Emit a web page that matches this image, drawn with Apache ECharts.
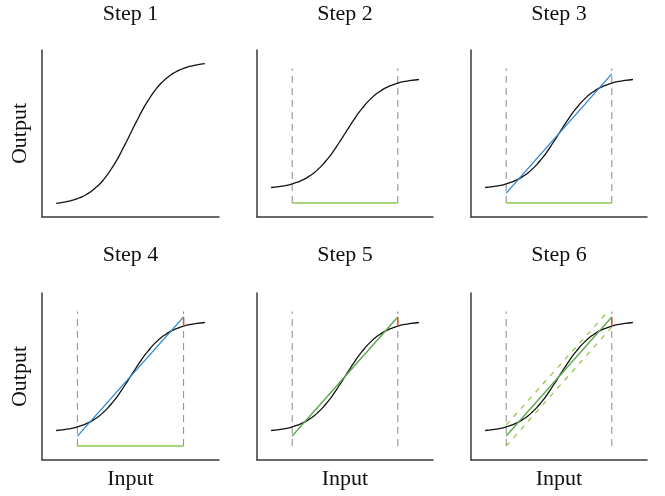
<!DOCTYPE html>
<html>
<head>
<meta charset="utf-8">
<style>
    html, body { margin: 0; padding: 0; background: #fff; }
    #main { width: 665px; height: 496px; }
</style>
<script src="https://cdn.jsdelivr.net/npm/echarts@6/dist/echarts.min.js"></script>
</head>
<body>
<div id="main"></div>
<script>
    // the S-curve
    var curveX = [-4.2, -3.75, -3.5, -3.25, -3, -2.75, -2.5, -2.25, -2, -1.75, -1.5, -1.25, -1, -0.75, -0.5, -0.25, 0,
                  0.25, 0.5, 0.75, 1, 1.25, 1.5, 1.75, 2, 2.25, 2.5, 2.75, 3, 3.25, 3.5, 3.75, 4.2];
    var curveY = [0.015, 0.023, 0.03, 0.037, 0.048, 0.06, 0.076, 0.095, 0.12, 0.148, 0.183, 0.223, 0.27, 0.32, 0.378, 0.438, 0.5,
                  0.562, 0.622, 0.68, 0.73, 0.777, 0.817, 0.852, 0.88, 0.905, 0.924, 0.94, 0.952, 0.963, 0.97, 0.977, 0.985];
    // window edges (gray dashed) and the base line under them
    var windowX = [-3, 3];
    var windowY = [-0.124, 1.084];
    var baseY = -0.124;
    // straight fit across the window
    var fitX = [-3, 3];
    var fitY = [-0.035, 1.035];
    // band around the fit (step 6)
    var upperX = [-3, 2.68];
    var upperY = [0.065, 1.066];
    var lowerX = [-3, 3];
    var lowerY = [-0.125, 0.945];
    // gap at the right edge
    var residX = 3;
    var residY = [0.952, 1.035];

    var stepTitles = ['Step 1', 'Step 2', 'Step 3', 'Step 4', 'Step 5', 'Step 6'];

    var FONT = '"Liberation Serif", "DejaVu Serif", serif';
    var C_CURVE = '#111111', C_GRAY = '#8a8a8a', C_BASE = '#8fc550', C_BLUE = '#2b85d0',
        C_RED = '#e8542a', C_GREEN = '#5aa84b', C_LIGHT = '#8cc63f';

    function pts(xs, ys) {
        return xs.map(function (x, i) { return [x, ys[i]]; });
    }

    var colLeft = [42, 257, 471];
    var colWidth = [177, 176, 176];
    var rowTop = [50, 293];
    var rowHeight = [167, 167];

    var grid = [], xAxis = [], yAxis = [], series = [], graphic = [];

    for (var i = 0; i < 6; i++) {
        var r = Math.floor(i / 3), c = i % 3;
        grid.push({ left: colLeft[c], top: rowTop[r], width: colWidth[c], height: rowHeight[r] });
        var spine = { show: true, onZero: false, lineStyle: { color: '#3a3a3a', width: 1.5 } };
        xAxis.push({
            gridIndex: i, type: 'value', min: -5, max: 5,
            axisLine: spine, axisTick: { show: false }, axisLabel: { show: false }, splitLine: { show: false },
            name: r === 1 ? 'Input' : '', nameLocation: 'middle', nameGap: 8,
            nameTextStyle: { fontFamily: FONT, fontSize: 22, color: '#111', verticalAlign: 'top' }
        });
        yAxis.push({
            gridIndex: i, type: 'value',
            min: i === 0 ? -0.08 : -0.25, max: i === 0 ? 1.08 : 1.25,
            axisLine: spine, axisTick: { show: false }, axisLabel: { show: false }, splitLine: { show: false },
            name: c === 0 ? 'Output' : '', nameLocation: 'middle', nameGap: 11,
            nameTextStyle: { fontFamily: FONT, fontSize: 22, color: '#111' }
        });
        graphic.push({
            type: 'text', x: colLeft[c] + colWidth[c] / 2, y: r === 0 ? 14 : 255,
            style: { text: stepTitles[i], font: '22px ' + FONT, fill: '#111', align: 'center', verticalAlign: 'middle' }
        });

        function line(data, color, width, dash, z) {
            series.push({
                type: 'line', xAxisIndex: i, yAxisIndex: i, data: data,
                showSymbol: false, symbol: 'none', silent: true, animation: false, z: z || 2,
                lineStyle: { color: color, width: width, type: dash || 'solid' }
            });
        }

        if (i >= 1) {
            line([[windowX[0], windowY[0]], [windowX[0], windowY[1]]], C_GRAY, 1, [7, 5], 1);
            line([[windowX[1], windowY[0]], [windowX[1], windowY[1]]], C_GRAY, 1, [7, 5], 1);
        }
        if (i >= 1 && i <= 3) {
            line([[windowX[0], baseY], [windowX[1], baseY]], C_BASE, 1.5, null, 2);
        }
        series.push({
            type: 'line', xAxisIndex: i, yAxisIndex: i, data: pts(curveX, curveY),
            smooth: true, showSymbol: false, symbol: 'none', silent: true, animation: false, z: 3,
            lineStyle: { color: C_CURVE, width: 1.3 }
        });
        if (i === 2 || i === 3) {
            line(pts(fitX, fitY), C_BLUE, 1.3, null, 4);
        }
        if (i >= 4) {
            line(pts(fitX, fitY), C_GREEN, 1.4, null, 4);
        }
        if (i === 5) {
            line(pts(upperX, upperY), C_LIGHT, 1.2, [5, 6], 4);
            line(pts(lowerX, lowerY), C_LIGHT, 1.2, [5, 6], 4);
        }
        if (i >= 3) {
            line([[residX, residY[0]], [residX, residY[1]]], C_RED, 1.5, null, 5);
        }
    }

    var myChart = echarts.init(document.getElementById('main'), null, { renderer: 'canvas' });
    myChart.setOption({
        animation: false,
        backgroundColor: '#fff',
        grid: grid,
        xAxis: xAxis,
        yAxis: yAxis,
        series: series,
        graphic: graphic
    });
</script>
</body>
</html>
